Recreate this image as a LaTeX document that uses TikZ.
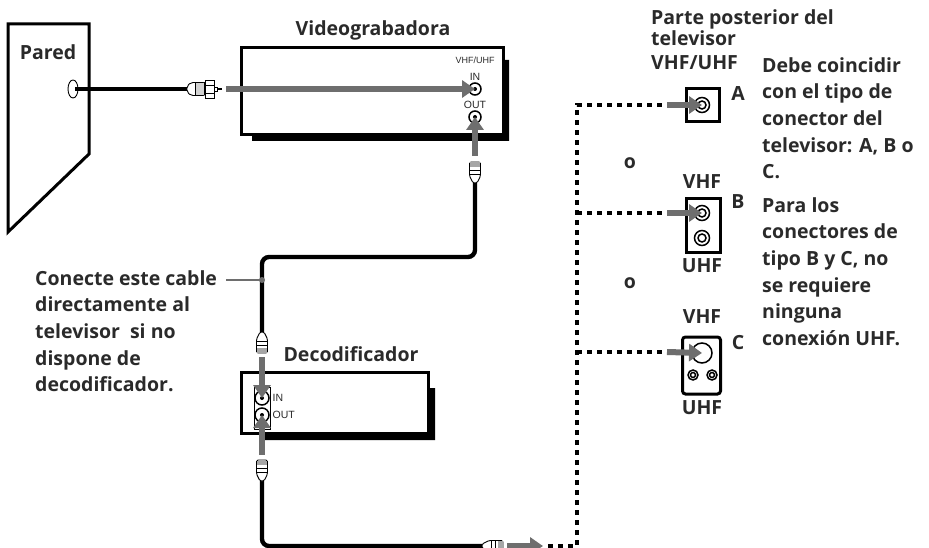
\documentclass[tikz,border=0pt]{standalone}
\usepackage{fontspec}
\setmainfont{Open Sans}
\newfontfamily\narrowfont{Liberation Sans}
\usetikzlibrary{arrows.meta,positioning,calc,shapes.geometric}

\begin{document}
\begin{tikzpicture}[x=1pt,y=-1pt]

   \definecolor{arrowgray}{HTML}{6E6E6E}
   \definecolor{labelink}{HTML}{2A2A2A}

   \tikzstyle{label}=[font=\fontsize{19.5}{26.7}\selectfont\bfseries,text=labelink,inner sep=0pt]
   \tikzstyle{para}=[label,align=left,anchor=north west]
   \tikzstyle{small}=[font=\narrowfont\fontsize{10.5}{10.5}\selectfont,text=labelink,inner sep=0pt]
   \tikzstyle{box}=[draw=black,line width=3pt,fill=white]
   \tikzstyle{shade}=[fill=black,draw=none]
   \tikzstyle{cable}=[draw=black,line width=4.4pt,rounded corners=7pt]
   \tikzstyle{feed}=[draw=arrowgray,line width=6pt,-{Triangle[length=13pt,width=17pt]}]
   \tikzstyle{link}=[draw=black,line width=3.2pt,dash pattern=on 5pt off 5pt]
   \tikzstyle{jack}=[circle,draw=black,line width=1.5pt,fill=white,inner sep=0pt]
   \tikzstyle{pin}=[circle,fill=black,inner sep=0pt,minimum size=4pt]

   \tikzset{
     plugshort/.pic={
       \draw[fill=white,line width=.9pt,rounded corners=1.5pt] (0,-2) -- (7,-5.5) -- (21,-5.5) -- (21,5.5) -- (7,5.5) -- (0,2) -- cycle;
       \fill[gray!70] (16,-5) rectangle (20.5,5);
       \draw[line width=.9pt] (9,-5.5) -- (9,5.5) (13,-5.5) -- (13,5.5);
     },
     pluglong/.pic={
       \draw[fill=white,line width=.9pt,rounded corners=2pt] (0,-3) -- (4,-6.5) -- (18,-6.5) -- (18,6.5) -- (4,6.5) -- (0,3) -- cycle;
       \fill[gray!35] (9,-6) rectangle (17,6);
       \draw[line width=.9pt] (8,-6.5) -- (8,6.5) (17,-6.5) -- (17,6.5);
       \draw[fill=white,line width=.9pt] (18,-9) rectangle (27,9);
       \draw[line width=.7pt] (18,-4) -- (27,-4) (18,4) -- (27,4);
       \draw[fill=white,line width=.9pt] (27,-2) rectangle (30,2);
       \draw[line width=1.2pt] (30,0) -- (35,0);
     }
   }

   \useasboundingbox (0,0) rectangle (929,548);

   % wall
   \draw[box] (8,24) -- (89,24) -- (89,154) -- (8,232) -- cycle;
   \node[label] (pared) at (48,52) {Pared};
   \node[draw=black,line width=.9pt,fill=white,ellipse,minimum width=10pt,minimum height=18pt,inner sep=0pt] (hole) at (73,89) {};
   \coordinate (holeend) at (75,89);

   % VCR
   \fill[shade] (503,60) -- (509,60) -- (509,141) -- (252,141) -- (252,135) -- (503,135) -- cycle;
   \node[box,minimum width=262pt,minimum height=87pt,inner sep=0pt] (vcr) at (372,91.5) {};
   \node[label] (vcrname) at (373,30) {Videograbadora};
   \node[small,font=\narrowfont\fontsize{9}{10}\selectfont] (vhfuhf) at (475,60) {VHF/UHF};
   \node[small] (vcrin) at (475,77) {IN};
   \node[small] (vcrout) at (475,105) {OUT};
   \node[jack,minimum size=12pt] (jackin) at (475,89) {};
   \node[pin] (pinin) at (475,89) {};
   \node[jack,minimum size=12pt] (jackout) at (475,117) {};
   \node[pin] (pinout) at (475,117) {};

   % decoder
   \fill[shade] (428,388) -- (435,388) -- (435,440) -- (262,440) -- (262,433) -- (428,433) -- cycle;
   \node[box,minimum width=187pt,minimum height=61pt,inner sep=0pt] (decoder) at (334.5,402.5) {};
   \node[label] (decname) at (351,354) {Decodificador};
   \node[draw=black,line width=.9pt,fill=white,minimum width=16pt,minimum height=42pt,inner sep=0pt] (plate) at (262,408) {};
   \node[jack,minimum size=14pt] (decin) at (262,398) {};
   \node[pin] (decinpin) at (262,398) {};
   \node[jack,minimum size=14pt] (decout) at (262,415) {};
   \node[pin] (decoutpin) at (262,415) {};
   \node[small,anchor=west] (inlabel) at (272.5,398) {IN};
   \node[small,anchor=west] (outlabel) at (272.5,415) {OUT};

   % cables and plugs
   \coordinate (plugone) at (187,89);
   \coordinate (plugtwo) at (475,183);
   \coordinate (plugthree) at (262,332);
   \coordinate (plugfour) at (262,481);
   \coordinate (plugfive) at (482,546);
   \coordinate (tap) at (262,280);
   \draw[cable] (holeend) -- (plugone);
   \draw[cable] (plugtwo) -- (475,257) -- (262,257) -- (plugthree);
   \draw[cable] (plugfour) -- (262,546) -- (plugfive);
   \pic at (plugone) {pluglong};
   \pic[rotate=90] at (plugtwo) {plugshort};
   \pic[rotate=-90] at (plugthree) {plugshort};
   \pic[rotate=90] at (plugfour) {plugshort};
   \pic at (plugfive) {plugshort};

   % note on the left
   \node[para] (note) at (35,270) {Conecte este cable\\directamente al\\televisor\ \ si no\\dispone de\\decodificador.};
   \draw[draw=arrowgray,line width=1.5pt] (226,280) -- (tap);
   \node[circle,fill=arrowgray,inner sep=0pt,minimum size=6pt] (tapdot) at (tap) {};

   % TV connectors
   \node[box,minimum width=33pt,minimum height=33pt,inner sep=0pt] (tva) at (702.5,105.5) {};
   \node[jack,minimum size=15pt] (tvaj) at (702,105) {};
   \node[jack,minimum size=8pt] (tvaji) at (702,105) {};
   \node[box,minimum width=34pt,minimum height=53pt,inner sep=0pt] (tvb) at (703.5,225.5) {};
   \node[jack,minimum size=15pt] (tvbj) at (702,213) {};
   \node[jack,minimum size=8pt] (tvbji) at (702,213) {};
   \node[jack,minimum size=15pt] (tvbk) at (702,238) {};
   \node[jack,minimum size=8pt] (tvbki) at (702,238) {};
   \node[box,rounded corners=3pt,minimum width=38pt,minimum height=57pt,inner sep=0pt] (tvc) at (701.5,365.5) {};
   \node[jack,minimum size=20pt] (tvcj) at (702,353) {};
   \node[jack,minimum size=10pt] (tvck) at (693,375) {};
   \node[jack,minimum size=5pt] (tvcki) at (693,375) {};
   \node[jack,minimum size=10pt] (tvcl) at (712,375) {};
   \node[jack,minimum size=5pt] (tvcli) at (712,375) {};

   % dashed lines
   \coordinate (dashstart) at (548,546);
   \coordinate (turn) at (577,546);
   \coordinate (top) at (577,105);
   \coordinate (enda) at (667,105);
   \coordinate (branchb) at (577,213);
   \coordinate (endb) at (667,213);
   \coordinate (branchc) at (577,352);
   \coordinate (endc) at (667,352);
   \draw[link] (dashstart) -- (turn) -- (top) -- (enda);
   \draw[link] (branchb) -- (endb);
   \draw[link] (branchc) -- (endc);

   % grey arrows
   \draw[feed] (226,89) -- (jackin.center);
   \draw[feed] (475,156) -- (jackout.center);
   \draw[feed] (262,357) -- (decin.center);
   \draw[feed] (262,455) -- (decout.center);
   \draw[feed] (507,546) -- (543,546);
   \draw[feed] (enda) -- (tvaj.center);
   \draw[feed] (endb) -- (tvbj.center);
   \draw[feed] (endc) -- (tvcj.center);

   % labels on the right
   \node[para] (head) at (651,9) {Parte posterior del\\[-5.7pt]televisor};
   \node[label,anchor=west] (headb) at (651,63) {VHF/UHF};
   \node[label] (labela) at (738,94) {A};
   \node[label] (labelb) at (738,202) {B};
   \node[label] (labelc) at (738,343) {C};
   \node[label] (oa) at (630,163) {o};
   \node[label] (ob) at (630,283) {o};
   \node[label] (vhfb) at (702,182) {VHF};
   \node[label] (uhfb) at (702,266) {UHF};
   \node[label] (vhfc) at (702,317) {VHF};
   \node[label] (uhfc) at (702,408) {UHF};
   \node[para] (must) at (762,57) {Debe coincidir\\con el tipo de\\conector del\\televisor: A, B o\\C.};
   \node[para] (para) at (762,197) {Para los\\conectores de\\tipo B y C, no\\se requiere\\ninguna\\conexión UHF.};

\end{tikzpicture}
\end{document}
